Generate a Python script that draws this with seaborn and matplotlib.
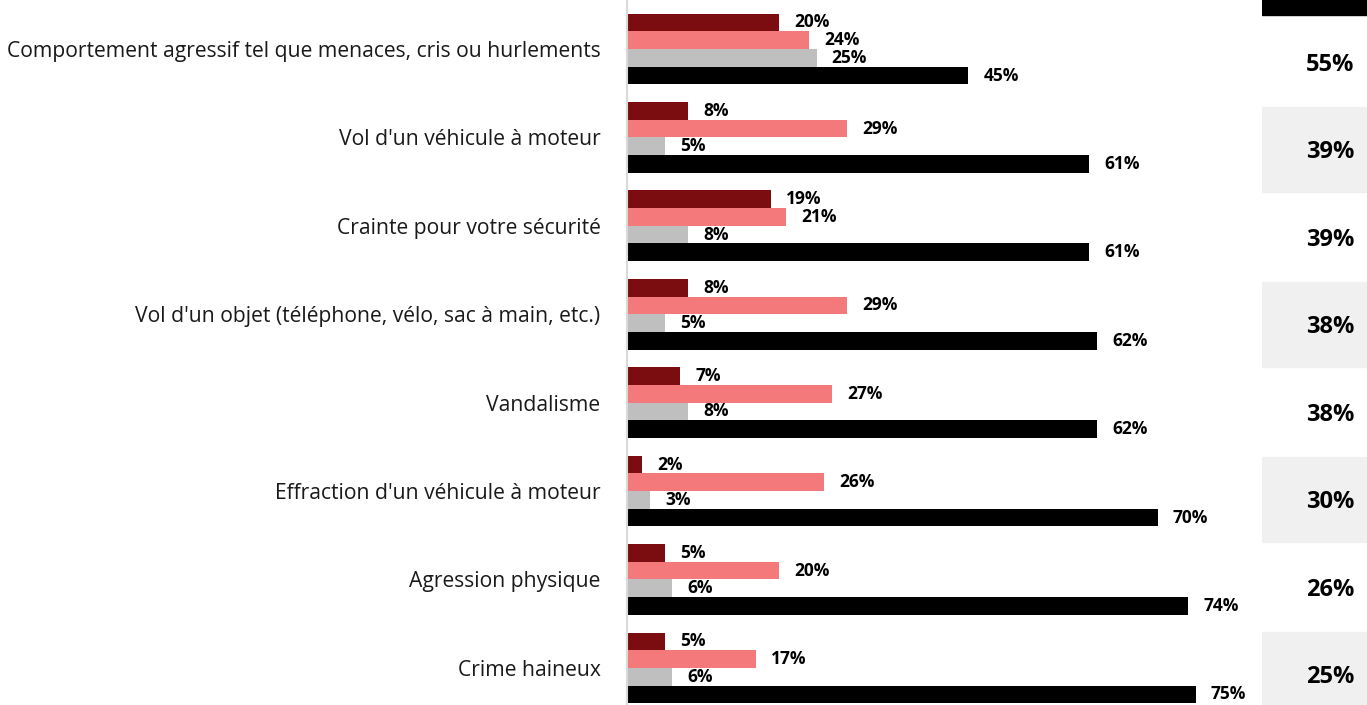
import numpy as np
import pandas as pd
import seaborn as sns
import matplotlib.pyplot as plt

categories = [
    "Comportement agressif tel que menaces, cris ou hurlements",
    "Vol d'un véhicule à moteur",
    "Crainte pour votre sécurité",
    "Vol d'un objet (téléphone, vélo, sac à main, etc.)",
    "Vandalisme",
    "Effraction d'un véhicule à moteur",
    "Agression physique",
    "Crime haineux",
]
series = ["Série 1", "Série 2", "Série 3", "Série 4"]
vals_1 = [20, 8, 19, 8, 7, 2, 5, 5]
vals_2 = [24, 29, 21, 29, 27, 26, 20, 17]
vals_3 = [25, 5, 8, 5, 8, 3, 6, 6]
vals_4 = [45, 61, 61, 62, 62, 70, 74, 75]
totals = [55, 39, 39, 38, 38, 30, 26, 25]
colors = ["#7B0C10", "#F4797B", "#BFBFBF", "#000000"]

df = pd.DataFrame({"cat": categories, series[0]: vals_1, series[1]: vals_2,
                   series[2]: vals_3, series[3]: vals_4})
df = df.melt(id_vars="cat", var_name="serie", value_name="val")

sns.set_style("white")
plt.rcParams['font.family'] = ['Open Sans', 'DejaVu Sans']

W, H = 1367, 705
fig = plt.figure(figsize=(W / 100, H / 100), dpi=100)
ax = fig.add_axes([627 / W, 0, (1250 - 627) / W, 1])
sns.barplot(data=df, y="cat", x="val", hue="serie", hue_order=series, order=categories,
            palette=colors, orient="h", width=0.8, saturation=1, legend=False,
            linewidth=0, ax=ax)
ax.set_xlim(0, (1250 - 627) / 7.58)
ax.set_ylim(7.42, -0.554)

for c in ax.containers:
    ax.bar_label(c, labels=[f"{v:.0f}%" for v in c.datavalues], padding=11,
                 fontsize=12.5, fontweight="bold", color="black")

for s in ["top", "right", "bottom"]:
    ax.spines[s].set_visible(False)
ax.spines["left"].set_color("#D9D9D9")
ax.spines["left"].set_linewidth(1.5)
ax.set_xticks([])
ax.set_xlabel("")
ax.set_ylabel("")
ax.tick_params(axis="y", length=0, pad=19, labelsize=15.2, labelcolor="#1a1a1a")

# colonne des totaux
ax2 = fig.add_axes([1262 / W, 0, (W - 1262) / W, 1])
ax2.set_xlim(0, 1)
ax2.set_ylim(7.35, -0.709)
ax2.axhspan(-0.709, -0.537, color="black")
for i, t in enumerate(totals):
    if i % 2 == 1:
        ax2.axhspan(i - 0.486, i + 0.486, color="#F0F0F0")
    ax2.text(0.65, i + 0.03, f"{t}%", ha="center", va="center",
             fontsize=17, fontweight="bold", color="black")
ax2.axis("off")

plt.savefig("out.png", dpi=100)
